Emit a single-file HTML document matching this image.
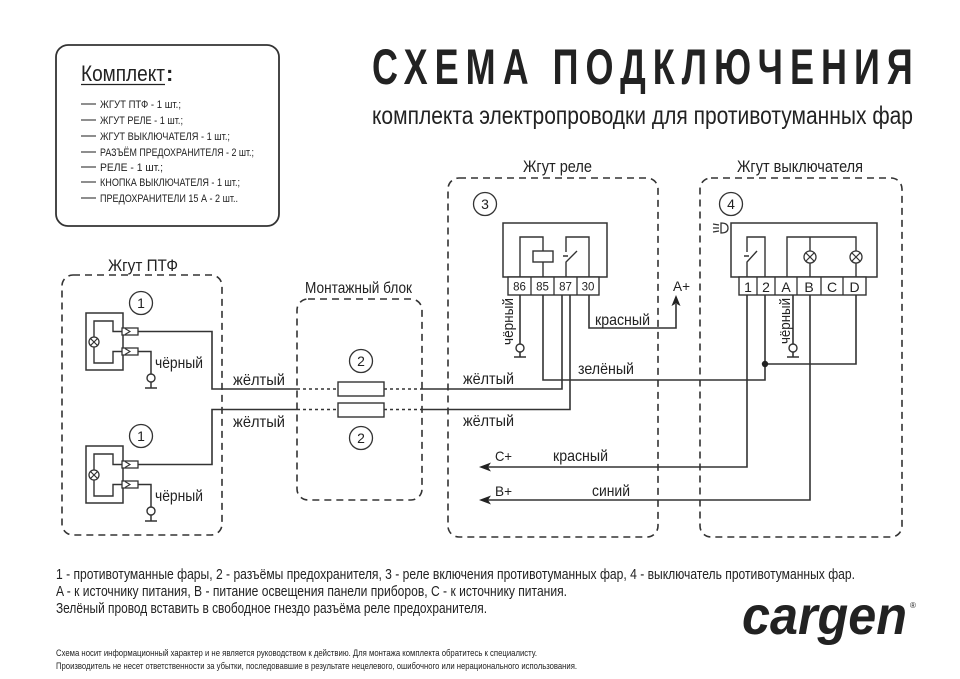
<!DOCTYPE html>
<html><head><meta charset="utf-8"><style>
html,body{margin:0;padding:0;background:#fff;}
svg{display:block;}
text{font-family:"Liberation Sans","DejaVu Sans",sans-serif;fill:#222;}
</style></head><body>
<svg width="960" height="679" viewBox="0 0 960 679" xmlns="http://www.w3.org/2000/svg">
<rect width="960" height="679" fill="#fff"/>

<!-- Комплект box -->
<rect x="56" y="45" width="223" height="181" rx="12" fill="none" stroke="#333" stroke-width="1.8"/>
<text x="81" y="81" font-size="22" textLength="84" lengthAdjust="spacingAndGlyphs">Комплект</text>
<text x="166" y="81" font-size="22" font-weight="bold">:</text>
<line x1="81" y1="84.5" x2="165" y2="84.5" stroke="#222" stroke-width="1.2"/>
<g stroke="#444" stroke-width="1.2">
<line x1="81" y1="104" x2="96" y2="104"/>
<line x1="81" y1="120" x2="96" y2="120"/>
<line x1="81" y1="136" x2="96" y2="136"/>
<line x1="81" y1="152" x2="96" y2="152"/>
<line x1="81" y1="167" x2="96" y2="167"/>
<line x1="81" y1="182" x2="96" y2="182"/>
<line x1="81" y1="198" x2="96" y2="198"/>
</g>
<g font-size="11" fill="#333">
<text x="100" y="108" textLength="81" lengthAdjust="spacingAndGlyphs">ЖГУТ ПТФ - 1 шт.;</text>
<text x="100" y="124" textLength="83" lengthAdjust="spacingAndGlyphs">ЖГУТ РЕЛЕ - 1 шт.;</text>
<text x="100" y="140" textLength="130" lengthAdjust="spacingAndGlyphs">ЖГУТ ВЫКЛЮЧАТЕЛЯ - 1 шт.;</text>
<text x="100" y="156" textLength="154" lengthAdjust="spacingAndGlyphs">РАЗЪЁМ ПРЕДОХРАНИТЕЛЯ - 2 шт.;</text>
<text x="100" y="171" textLength="63" lengthAdjust="spacingAndGlyphs">РЕЛЕ - 1 шт.;</text>
<text x="100" y="186" textLength="140" lengthAdjust="spacingAndGlyphs">КНОПКА ВЫКЛЮЧАТЕЛЯ - 1 шт.;</text>
<text x="100" y="202" textLength="138" lengthAdjust="spacingAndGlyphs">ПРЕДОХРАНИТЕЛИ 15 А - 2 шт..</text>
</g>

<!-- Title -->
<text transform="translate(372,84) scale(0.72,1)" x="0" y="0" font-size="50" font-weight="bold" fill="#1a1a1a" textLength="751" lengthAdjust="spacing">СХЕМА ПОДКЛЮЧЕНИЯ</text>
<text x="372" y="124" font-size="25" fill="#222" textLength="541" lengthAdjust="spacingAndGlyphs">комплекта электропроводки для противотуманных фар</text>

<!-- Dashed boxes -->
<g fill="none" stroke="#333" stroke-width="1.6" stroke-dasharray="7 5">
<rect x="62" y="275" width="160" height="260" rx="11"/>
<rect x="297" y="299" width="125" height="201" rx="11"/>
<rect x="448" y="178" width="210" height="359" rx="11"/>
<rect x="700" y="178" width="202" height="359" rx="11"/>
</g>

<!-- Section labels -->
<text x="108" y="271" font-size="17" textLength="70" lengthAdjust="spacingAndGlyphs">Жгут ПТФ</text>
<text x="305" y="293" font-size="16" textLength="107" lengthAdjust="spacingAndGlyphs">Монтажный блок</text>
<text x="523" y="172" font-size="17" textLength="69" lengthAdjust="spacingAndGlyphs">Жгут реле</text>
<text x="737" y="172" font-size="17" textLength="126" lengthAdjust="spacingAndGlyphs">Жгут выключателя</text>

<!-- Number circles -->
<g fill="#fff" stroke="#333" stroke-width="1.3">
<circle cx="141" cy="303" r="11.5"/>
<circle cx="141" cy="436" r="11.5"/>
<circle cx="361" cy="361" r="11.5"/>
<circle cx="361" cy="438" r="11.5"/>
<circle cx="485" cy="204" r="11.5"/>
<circle cx="731" cy="204" r="11.5"/>
</g>
<g font-size="14" text-anchor="middle">
<text x="141" y="308">1</text>
<text x="141" y="441">1</text>
<text x="361" y="366">2</text>
<text x="361" y="443">2</text>
<text x="485" y="209">3</text>
<text x="731" y="209">4</text>
</g>

<!-- Headlamps -->
<g id="hl">
<rect x="86" y="313" width="37" height="57" fill="none" stroke="#333" stroke-width="1.5"/>
<path d="M122,331.5 H113 V321 H94 V363 H113 V351.5 H122" fill="none" stroke="#333" stroke-width="1.4"/>
<circle cx="94" cy="342" r="5" fill="#fff" stroke="#333" stroke-width="1.3"/>
<path d="M90.5,338.5 L97.5,345.5 M97.5,338.5 L90.5,345.5" stroke="#333" stroke-width="1.2"/>
<rect x="122" y="328" width="16" height="7" fill="#fff" stroke="#333" stroke-width="1.3"/>
<rect x="122" y="348" width="16" height="7" fill="#fff" stroke="#333" stroke-width="1.3"/>
<path d="M125,328.5 L130,331.5 L125,334.5 M125,348.5 L130,351.5 L125,354.5" fill="none" stroke="#333" stroke-width="1.1"/>
<path d="M138,351.5 H151 V374 M151,382 V388 M145,388 H157" fill="none" stroke="#333" stroke-width="1.5"/>
<circle cx="151" cy="378" r="4" fill="#fff" stroke="#333" stroke-width="1.4"/>
<text x="155" y="368" font-size="16" textLength="48" lengthAdjust="spacingAndGlyphs">чёрный</text>
</g>
<use href="#hl" transform="translate(0,133)"/>

<!-- Wires -->
<g fill="none" stroke="#333" stroke-width="1.6">
<path d="M138,331.5 H212 V389 H297"/>
<path d="M138,464.5 H212 V409.5 H297"/>
<path d="M422,389 H562 V295"/>
<path d="M422,409.5 H570 V295"/>
<path d="M543,295 V380 H765 V295"/>
<path d="M765,364 H856 V295"/>
<path d="M589,295 V328 H676 V304"/>
<path d="M747,295 V467 H488"/>
<path d="M810,295 V500 H488"/>
<path d="M520,295 V344 M520,352 V357 M514,357 H526"/>
<path d="M793,295 V344 M793,352 V357 M787,357 H799"/>
</g>
<g fill="none" stroke="#333" stroke-width="1.4" stroke-dasharray="3 3">
<path d="M297,389 H338 M384,389 H422"/>
<path d="M297,409.5 H338 M384,409.5 H422"/>
</g>
<g fill="#fff" stroke="#333" stroke-width="1.4">
<rect x="338" y="382" width="46" height="14"/>
<rect x="338" y="403" width="46" height="14"/>
<circle cx="520" cy="348" r="4"/>
<circle cx="793" cy="348" r="4"/>
</g>
<circle cx="765" cy="364" r="3.2" fill="#222"/>
<!-- Arrowheads -->
<path d="M676,295 L680.5,306 L676,303.5 L671.5,306 Z" fill="#222"/>
<path d="M479,467 L491,462.5 L488,467 L491,471.5 Z" fill="#222"/>
<path d="M479,500 L491,495.5 L488,500 L491,504.5 Z" fill="#222"/>

<!-- Relay -->
<rect x="503" y="223" width="104" height="54" fill="none" stroke="#333" stroke-width="1.5"/>
<rect x="508" y="277" width="91" height="18" fill="#fff" stroke="#333" stroke-width="1.4"/>
<path d="M531,277 V295 M554,277 V295 M577,277 V295" stroke="#333" stroke-width="1.3"/>
<path d="M520,277 V237 H543 V277 M566,277 V262 L577,251 M566,252 V237 H589 V277 M563,256 H568" fill="none" stroke="#333" stroke-width="1.4"/>
<rect x="533" y="251" width="20" height="11" fill="#fff" stroke="#333" stroke-width="1.4"/>
<g font-size="11.5" text-anchor="middle">
<text x="519.5" y="290.5">86</text>
<text x="542.5" y="290.5">85</text>
<text x="565.5" y="290.5">87</text>
<text x="588" y="290.5">30</text>
</g>

<!-- Switch -->
<rect x="731" y="223" width="146" height="54" fill="none" stroke="#333" stroke-width="1.5"/>
<rect x="739" y="277" width="127" height="18" fill="#fff" stroke="#333" stroke-width="1.4"/>
<path d="M757,277 V295 M775,277 V295 M797,277 V295 M821,277 V295 M843,277 V295" stroke="#333" stroke-width="1.3"/>
<path d="M747,277 V262 L757,251 M747,252 V237 H765 V277 M744,256 H749 M787,277 V237 H856 V277 M810,237 V277" fill="none" stroke="#333" stroke-width="1.4"/>
<g fill="#fff" stroke="#333" stroke-width="1.3">
<circle cx="810" cy="257" r="6"/>
<circle cx="856" cy="257" r="6"/>
</g>
<path d="M806,253 L814,261 M814,253 L806,261 M852,253 L860,261 M860,253 L852,261" stroke="#333" stroke-width="1.2"/>
<g font-size="14" text-anchor="middle">
<text x="748" y="292">1</text>
<text x="766" y="292">2</text>
<text x="786" y="292">A</text>
<text x="809" y="292">B</text>
<text x="832" y="292">C</text>
<text x="854.5" y="292">D</text>
</g>
<!-- fog icon -->
<path d="M721,223 Q728,223 728,228 Q728,233 721,233 Z" fill="none" stroke="#333" stroke-width="1.3"/>
<path d="M713,224 L719,225 M713,228 L719,228 M713,232 L719,231" stroke="#333" stroke-width="1.2"/>

<!-- Wire labels -->
<g font-size="16">
<text x="233" y="385" textLength="52" lengthAdjust="spacingAndGlyphs">жёлтый</text>
<text x="233" y="427" textLength="52" lengthAdjust="spacingAndGlyphs">жёлтый</text>
<text x="463" y="384" textLength="51" lengthAdjust="spacingAndGlyphs">жёлтый</text>
<text x="463" y="426" textLength="51" lengthAdjust="spacingAndGlyphs">жёлтый</text>
<text x="578" y="374" textLength="56" lengthAdjust="spacingAndGlyphs">зелёный</text>
<text x="595" y="325" textLength="55" lengthAdjust="spacingAndGlyphs">красный</text>
<text x="553" y="461" textLength="55" lengthAdjust="spacingAndGlyphs">красный</text>
<text x="592" y="496" textLength="38" lengthAdjust="spacingAndGlyphs">синий</text>
</g>
<g font-size="14">
<text x="673" y="291" textLength="17" lengthAdjust="spacingAndGlyphs">A+</text>
<text x="495" y="461" textLength="17" lengthAdjust="spacingAndGlyphs">C+</text>
<text x="495" y="496" textLength="17" lengthAdjust="spacingAndGlyphs">B+</text>
</g>
<text transform="translate(513,345) rotate(-90)" font-size="15" textLength="47" lengthAdjust="spacingAndGlyphs">чёрный</text>
<text transform="translate(790,344) rotate(-90)" font-size="15" textLength="46" lengthAdjust="spacingAndGlyphs">чёрный</text>

<!-- Bottom text -->
<g font-size="15" fill="#333">
<text x="56" y="579" textLength="799" lengthAdjust="spacingAndGlyphs">1 - противотуманные фары, 2 - разъёмы предохранителя, 3 - реле включения противотуманных фар, 4 - выключатель противотуманных фар.</text>
<text x="56" y="596" textLength="511" lengthAdjust="spacingAndGlyphs">A - к источнику питания, B - питание освещения панели приборов, C - к источнику питания.</text>
<text x="56" y="613" textLength="431" lengthAdjust="spacingAndGlyphs">Зелёный провод вставить в свободное гнездо разъёма реле предохранителя.</text>
</g>
<g font-size="9" fill="#444">
<text x="56" y="656" textLength="481" lengthAdjust="spacingAndGlyphs">Схема носит информационный характер и не является руководством к действию. Для монтажа комплекта обратитесь к специалисту.</text>
<text x="56" y="669" textLength="521" lengthAdjust="spacingAndGlyphs">Производитель не несет ответственности за убытки, последовавшие в результате нецелевого, ошибочного или нерационального использования.</text>
</g>

<!-- Logo -->
<text x="742" y="634" font-size="54" font-weight="bold" font-style="italic" fill="#1a1a1a" textLength="165" lengthAdjust="spacingAndGlyphs">cargen</text>
<text x="910" y="608" font-size="8" fill="#333">®</text>
</svg>
</body></html>
